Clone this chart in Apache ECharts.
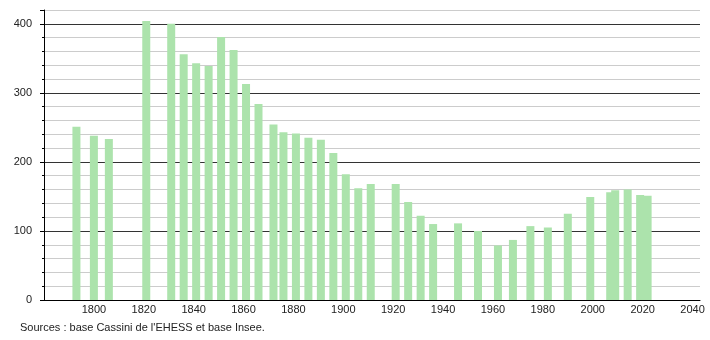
<!DOCTYPE html>
<html>
<head>
<meta charset="utf-8">
<script src="https://cdn.jsdelivr.net/npm/echarts@6/dist/echarts.min.js"></script>
<style>
  html, body { margin: 0; padding: 0; background: #fff; }
  #chart { width: 710px; height: 340px; }
</style>
</head>
<body>
<div id="chart"></div>
<script>
// années de recensement
var years = [1793, 1800, 1806, 1821, 1831, 1836, 1841, 1846, 1851, 1856,
  1861, 1866, 1872, 1876, 1881, 1886, 1891, 1896, 1901, 1906,
  1911, 1921, 1926, 1931, 1936, 1946, 1954, 1962, 1968, 1975,
  1982, 1990, 1999, 2007, 2009, 2014, 2019, 2022];
// population
var population = [251, 238, 233, 404, 400, 356, 343, 339, 381, 362,
  313, 284, 254, 243, 241, 235, 232, 213, 182, 162,
  168, 168, 142, 122, 110, 111, 100, 79, 87, 107,
  105, 125, 149, 156, 159, 160, 152, 151];
var yLabels = [0, 100, 200, 300, 400];
var xLabels = [1800, 1820, 1840, 1860, 1880, 1900, 1920, 1940, 1960, 1980, 2000, 2020, 2040];
var source = "Sources : base Cassini de l'EHESS et base Insee.";

var chart = echarts.init(document.getElementById('chart'));
var font = 'Liberation Sans, Arial, sans-serif';

var data = [];
for (var i = 0; i < years.length; i++) {
  data.push([years[i], population[i]]);
}

var option = {
  animation: false,
  grid: { left: 44, right: 10, top: 10, bottom: 40 },
  graphic: [{
    type: 'text',
    left: 20,
    top: 322,
    style: { text: source, fill: '#222', font: '11px ' + font }
  }],
  xAxis: {
    type: 'value',
    min: 1780,
    max: 2043,
    interval: 20,
    splitLine: { show: false },
    axisLine: { lineStyle: { color: '#000', width: 1 } },
    axisTick: { show: false },
    axisLabel: {
      color: '#222',
      fontFamily: font,
      fontSize: 11,
      margin: 4,
      showMinLabel: false,
      formatter: function (v) {
        return xLabels.indexOf(v) >= 0 ? String(v) : '';
      }
    }
  },
  yAxis: [{
    type: 'value',
    min: 0,
    max: 420,
    interval: 20,
    axisLine: { show: true, lineStyle: { color: '#000', width: 1 } },
    axisTick: { show: true, length: 2, lineStyle: { color: '#000' } },
    axisLabel: { show: false },
    splitLine: {
      show: true,
      lineStyle: { color: ['#333', '#ccc', '#ccc', '#ccc', '#ccc'], width: 1 }
    }
  }, {
    type: 'value',
    min: 0,
    max: 420,
    interval: 100,
    position: 'left',
    axisLine: { show: false },
    axisTick: { show: true, length: 4, lineStyle: { color: '#000' } },
    splitLine: { show: false },
    axisLabel: {
      color: '#222',
      fontFamily: font,
      fontSize: 11,
      margin: 12,
      formatter: function (v) {
        return yLabels.indexOf(v) >= 0 ? String(v) : '';
      }
    }
  }],
  series: [{
    type: 'bar',
    data: data,
    barWidth: 8,
    itemStyle: { color: '#ace3ac' }
  }]
};

chart.setOption(option);
</script>
</body>
</html>
